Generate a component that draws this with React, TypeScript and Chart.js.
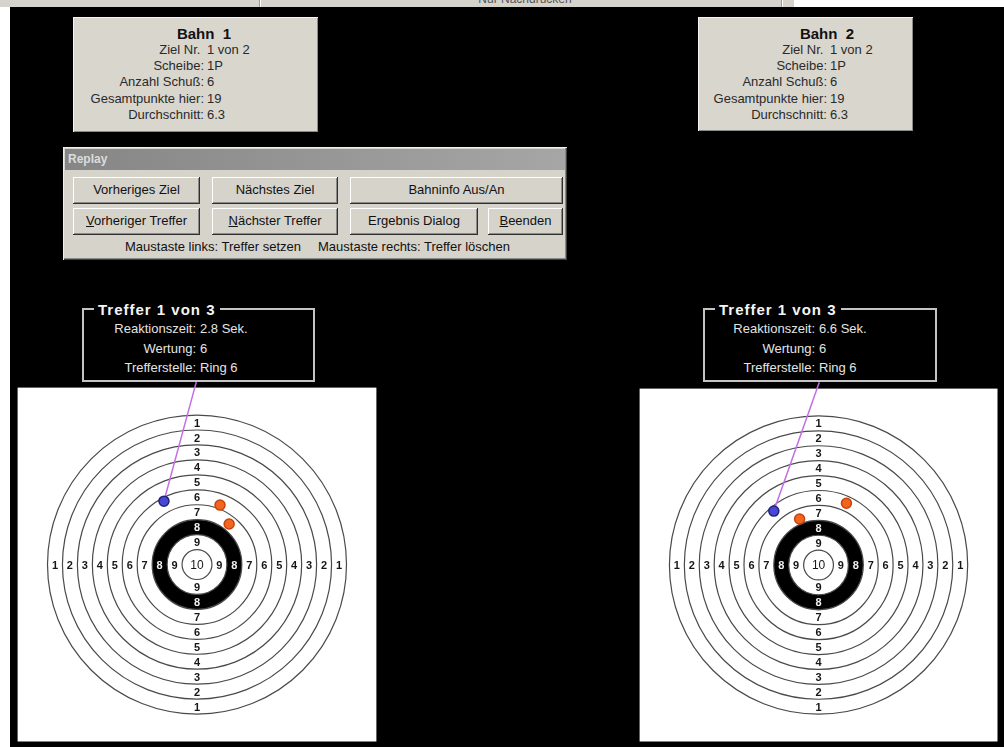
import React, { useEffect, useRef } from "react";
import { Chart, registerables } from "chart.js";
Chart.register(...registerables);

// ---------- data ----------
const ringScores = [1, 2, 3, 4, 5, 6, 7, 8, 9, 10];
const laneTitles = ["Bahn  1", "Bahn  2"];
const laneInfoLabels = ["Ziel Nr.\u00a0", "Scheibe:", "Anzahl Schuß:", "Gesamtpunkte hier:", "Durchschnitt:"];
const lane1Info = ["1 von 2", "1P", "6", "19", "6.3"];
const lane2Info = ["1 von 2", "1P", "6", "19", "6.3"];
const hitTitle = "Treffer 1 von 3";
const hitLabels = ["Reaktionszeit:", "Wertung:", "Trefferstelle:"];
const lane1Hit = ["2.8 Sek.", "6", "Ring 6"];
const lane2Hit = ["6.6 Sek.", "6", "Ring 6"];
// shot positions in ring units (ring k outer radius = 11 - k), first shot = selected
const lane1ShotsX = [-2.21, 1.54, 2.15];
const lane1ShotsY = [4.3, 4.03, 2.75];
const lane2ShotsX = [-3.0, 1.87, -1.27];
const lane2ShotsY = [3.67, 4.2, 3.13];
// callout anchor (bottom of the "Treffer" box) in ring units
const lane1Anchor = { x: -0.05, y: 12.37 };
const lane2Anchor = { x: 0.05, y: 12.44 };
const replayButtonsRow1 = ["Vorheriges Ziel", "Nächstes Ziel", "Bahninfo Aus/An"];
const replayButtonsRow2 = ["Vorheriger Treffer", "Nächster Treffer", "Ergebnis Dialog", "Beenden"];
const replayHints = ["Maustaste links: Treffer setzen", "Maustaste rechts: Treffer löschen"];

const FONT = '"Liberation Sans", Arial, sans-serif';
const UNIT = 14.95;

const targetFace = {
  id: "targetFace",
  beforeDatasetsDraw(chart: any) {
    const { ctx, chartArea, scales } = chart;
    const xs = scales.x, ys = scales.y;
    ctx.save();
    ctx.fillStyle = "#ffffff";
    ctx.fillRect(chartArea.left, chartArea.top, chartArea.width, chartArea.height);
    const cx = xs.getPixelForValue(0);
    const cy = ys.getPixelForValue(0);
    const u = xs.getPixelForValue(1) - cx;
    const disk = (r: number, color: string) => {
      ctx.beginPath();
      ctx.arc(cx, cy, r, 0, Math.PI * 2);
      ctx.fillStyle = color;
      ctx.fill();
    };
    disk(3 * u, "#000000");
    disk(2 * u, "#ffffff");
    ctx.strokeStyle = "#4a4a4a";
    ctx.lineWidth = 1.2;
    ringScores.forEach((k) => {
      ctx.beginPath();
      ctx.arc(cx, cy, (11 - k) * u, 0, Math.PI * 2);
      ctx.stroke();
    });
    ctx.font = `bold 11px ${FONT}`;
    ctx.textAlign = "center";
    ctx.textBaseline = "middle";
    ringScores.forEach((k) => {
      ctx.fillStyle = k === 8 ? "#f0f0f0" : "#161616";
      if (k === 10) {
        ctx.font = `12px ${FONT}`;
        ctx.fillText(String(k), cx, cy + 1);
        return;
      }
      const d = (10.5 - k) * u;
      ctx.fillText(String(k), cx - d, cy + 1);
      ctx.fillText(String(k), cx + d, cy + 1);
      ctx.fillText(String(k), cx, cy - d + 1);
      ctx.fillText(String(k), cx, cy + d + 1);
    });
    ctx.restore();
  },
};

function TargetChart(props: {
  xs: number[]; ys: number[]; anchor: { x: number; y: number };
  left: number; top: number; width: number; height: number; cx: number; cy: number;
}) {
  const ref = useRef<HTMLCanvasElement>(null);
  const { xs, ys, anchor, left, top, width, height, cx, cy } = props;
  useEffect(() => {
    if (!ref.current) return;
    const half = 12 * UNIT;
    const shots = xs.map((x, i) => ({ x, y: ys[i] }));
    const chart = new Chart(ref.current, {
      type: "scatter",
      data: {
        datasets: [
          {
            type: "line",
            data: [shots[0], anchor],
            borderColor: "#c46ee6",
            borderWidth: 1.5,
            pointRadius: 0,
            clip: false,
            order: 2,
          } as any,
          {
            type: "scatter",
            data: shots,
            pointRadius: 5,
            pointBackgroundColor: shots.map((_, i) => (i === 0 ? "#4848d8" : "#f0661c")),
            pointBorderColor: shots.map((_, i) => (i === 0 ? "#22227a" : "#c8400e")),
            pointBorderWidth: 1.5,
            order: 1,
          } as any,
        ],
      },
      options: {
        responsive: false,
        animation: false,
        devicePixelRatio: 1,
        events: [],
        layout: {
          padding: {
            left: cx - half - left,
            top: cy - half - top,
            right: width - (cx + half - left),
            bottom: height - (cy + half - top),
          },
        },
        scales: {
          x: { type: "linear", min: -12, max: 12, display: false },
          y: { type: "linear", min: -12, max: 12, display: false },
        },
        plugins: { legend: { display: false }, tooltip: { enabled: false } },
      },
      plugins: [targetFace],
    });
    return () => chart.destroy();
  }, []);
  return (
    <canvas
      ref={ref}
      width={width}
      height={height}
      style={{ position: "absolute", left, top, width, height }}
    />
  );
}

const abs = (l: number, t: number, w?: number, h?: number): React.CSSProperties => ({
  position: "absolute", left: l, top: t, width: w, height: h, boxSizing: "border-box",
});

function LanePanel(p: { left: number; top: number; width: number; height: number; title: string; values: string[]; col: number }) {
  return (
    <div style={{ ...abs(p.left, p.top, p.width, p.height), background: "#d9d6ce", boxShadow: "inset 1px 1px #f4f4f4, inset -1px -1px #8a8a8a" }}>
      <div style={{ ...abs(0, 8, p.width - 4, 20), textAlign: "center", paddingLeft: p.col * 2 - p.width + 4, font: `bold 15px ${FONT}`, whiteSpace: "pre", color: "#111" }}>
        {p.title}
      </div>
      {laneInfoLabels.map((lab, i) => (
        <React.Fragment key={i}>
          <div style={{ ...abs(0, 25 + i * 16.2, p.col, 16), textAlign: "right", font: `13px ${FONT}`, color: "#2a2a2a", whiteSpace: "pre" }}>{lab}</div>
          <div style={{ ...abs(p.col + 3, 25 + i * 16.2, 80, 16), font: `13px ${FONT}`, color: "#2a2a2a", whiteSpace: "pre" }}>{p.values[i]}</div>
        </React.Fragment>
      ))}
    </div>
  );
}

function HitBox(p: { left: number; top: number; width: number; height: number; values: string[]; col: number }) {
  return (
    <div style={{ ...abs(p.left, p.top, p.width, p.height), border: "2px solid #c4c4c4" }}>
      <div style={{ ...abs(10, -10, undefined, 20), background: "#000", padding: "0 4px", font: `bold 15px ${FONT}`, letterSpacing: 1, color: "#f4f4f4", whiteSpace: "pre", lineHeight: "20px" }}>
        {hitTitle}
      </div>
      {hitLabels.map((lab, i) => (
        <React.Fragment key={i}>
          <div style={{ ...abs(0, 11 + i * 19.5, p.col, 17), textAlign: "right", font: `13px ${FONT}`, color: "#e4e4e4", whiteSpace: "pre" }}>{lab}</div>
          <div style={{ ...abs(p.col + 4, 11 + i * 19.5, 100, 17), font: `13px ${FONT}`, color: "#e4e4e4", whiteSpace: "pre" }}>{p.values[i]}</div>
        </React.Fragment>
      ))}
    </div>
  );
}

const btnStyle: React.CSSProperties = {
  background: "#d6d3cb",
  boxShadow: "inset -1px -1px #303030, inset 1px 1px #ffffff, inset -2px -2px #8a8a8a",
  font: `13px ${FONT}`,
  color: "#111",
  textAlign: "center",
  lineHeight: "26px",
  whiteSpace: "pre",
};

function Btn(p: { l: number; t: number; w: number; label: string; ul?: boolean }) {
  return (
    <div style={{ ...abs(p.l, p.t, p.w, 27), ...btnStyle }}>
      {p.ul ? (<><u>{p.label[0]}</u>{p.label.slice(1)}</>) : p.label}
    </div>
  );
}

export default function App() {
  return (
    <div style={{ position: "fixed", left: 0, top: 0, width: 1004, height: 747, overflow: "hidden", background: "#fff" }}>
      {/* top strip */}
      <div style={{ ...abs(0, 0, 794, 7), background: "#d6d3cc", overflow: "hidden" }}>
        <div style={{ ...abs(259, 0, 2, 7), borderLeft: "1px solid #9a9a9a", borderRight: "1px solid #fff" }} />
        <div style={{ ...abs(781, 0, 2, 7), borderLeft: "1px solid #9a9a9a", borderRight: "1px solid #fff" }} />
        <div style={{ ...abs(455, -8, 140, 14), font: `12px ${FONT}`, color: "#555", textAlign: "center" }}>Nur Nachdrucken</div>
      </div>
      {/* black background */}
      <div style={{ ...abs(10, 7, 994, 740), background: "#000" }} />

      <LanePanel left={73} top={17} width={245} height={115} title={laneTitles[0]} values={lane1Info} col={131} />
      <LanePanel left={698} top={17} width={215} height={114} title={laneTitles[1]} values={lane2Info} col={129} />

      {/* Replay panel */}
      <div style={{ ...abs(63, 147, 504, 113), background: "#d6d3cb", boxShadow: "inset 1px 1px #f0f0f0, inset -1px -1px #404040, inset -2px -2px #8a8a8a" }}>
        <div style={{ ...abs(2, 2, 500, 21), background: "linear-gradient(90deg, #868686, #a6a6a6)", font: `bold 12px ${FONT}`, color: "#dcdcdc", lineHeight: "21px", paddingLeft: 3 }}>
          Replay
        </div>
        <Btn l={10} t={30} w={127} label={replayButtonsRow1[0]} />
        <Btn l={149} t={30} w={126} label={replayButtonsRow1[1]} />
        <Btn l={287} t={30} w={213} label={replayButtonsRow1[2]} />
        <Btn l={10} t={61} w={127} label={replayButtonsRow2[0]} ul />
        <Btn l={149} t={61} w={126} label={replayButtonsRow2[1]} ul />
        <Btn l={287} t={61} w={128} label={replayButtonsRow2[2]} />
        <Btn l={425} t={61} w={75} label={replayButtonsRow2[3]} ul />
        <div style={{ ...abs(62, 92, 180, 16), font: `13px ${FONT}`, color: "#111", whiteSpace: "pre" }}>{replayHints[0]}</div>
        <div style={{ ...abs(255, 92, 200, 16), font: `13px ${FONT}`, color: "#111", whiteSpace: "pre" }}>{replayHints[1]}</div>
      </div>

      <HitBox left={82} top={308} width={233} height={74} values={lane1Hit} col={112} />
      <HitBox left={703} top={308} width={234} height={74} values={lane2Hit} col={110} />

      <TargetChart xs={lane1ShotsX} ys={lane1ShotsY} anchor={lane1Anchor} left={10} top={380} width={380} height={368} cx={197} cy={567} />
      <TargetChart xs={lane2ShotsX} ys={lane2ShotsY} anchor={lane2Anchor} left={630} top={380} width={374} height={368} cx={819} cy={568} />
    </div>
  );
}
